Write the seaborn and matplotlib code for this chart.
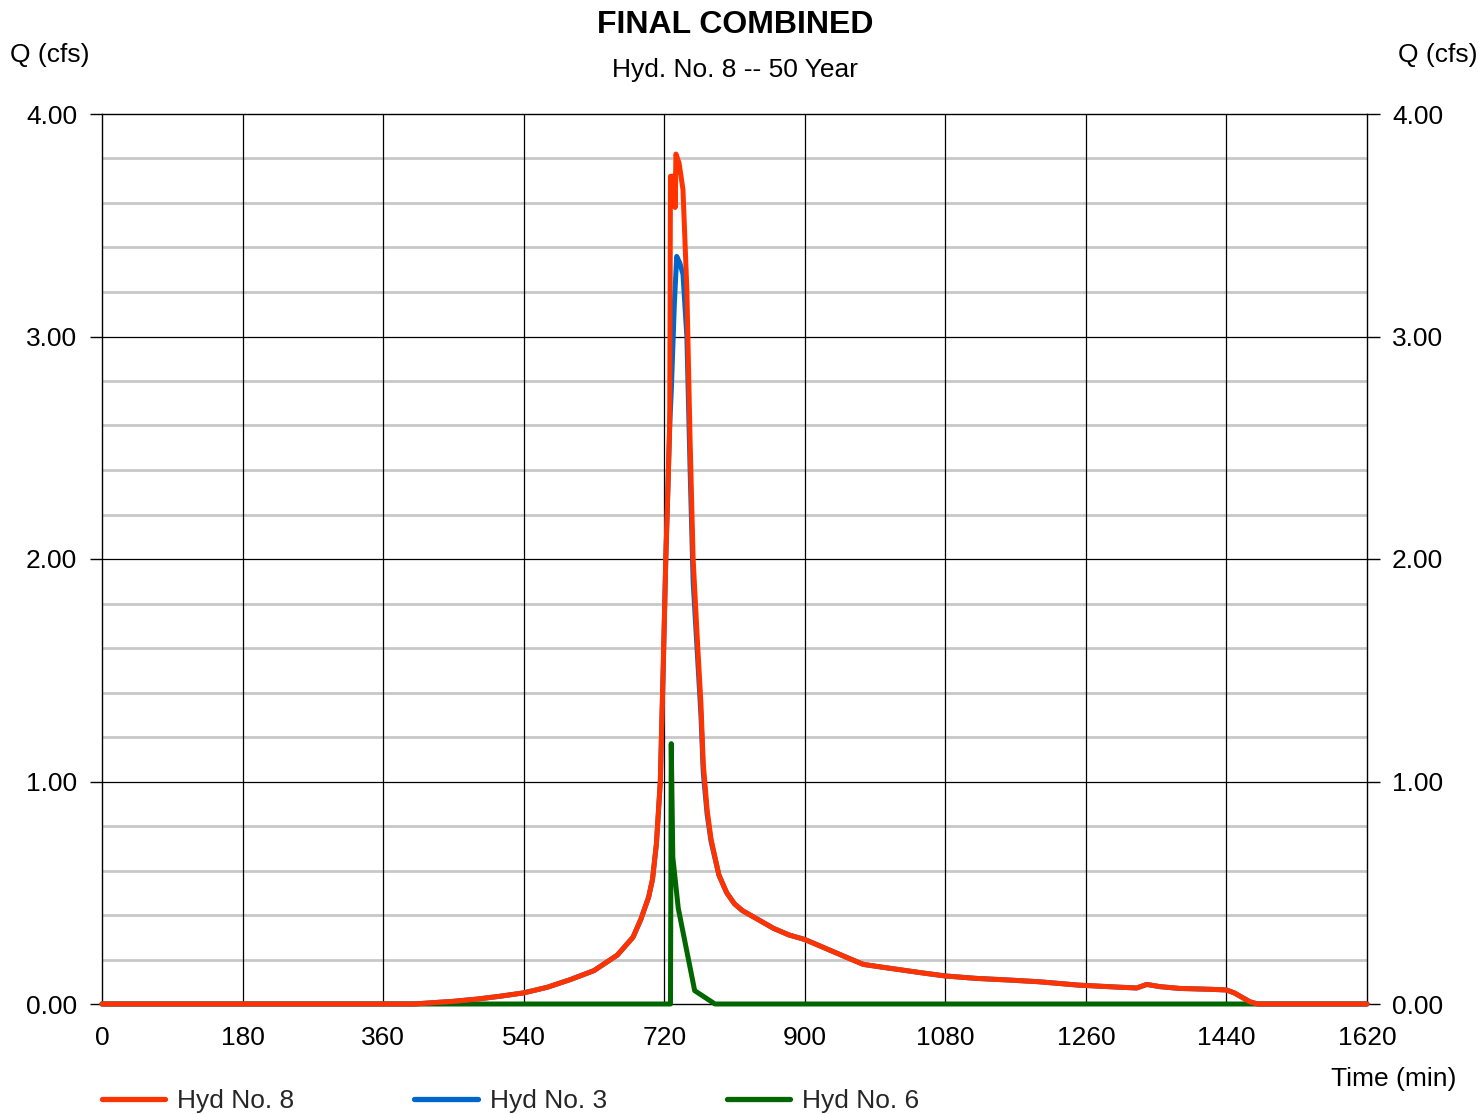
import numpy as np
import pandas as pd
import matplotlib
matplotlib.use("Agg")
import matplotlib.pyplot as plt
import seaborn as sns
from matplotlib.lines import Line2D
from matplotlib.ticker import MultipleLocator

# ---------------- data ----------------
t_hyd8 = [0, 400, 420, 450, 480, 510, 540, 570, 600, 630, 660, 680, 690, 700, 705, 710,
          715, 719, 722, 725, 727, 728, 733, 734, 735, 739, 744, 749, 753, 757, 763, 767,
          770, 775, 780, 790, 800, 810, 820, 830, 845, 860, 880, 900, 930, 960, 975, 1000,
          1050, 1080, 1120, 1160, 1200, 1250, 1300, 1325, 1338, 1355, 1380, 1420, 1440,
          1450, 1460, 1470, 1480, 1620]
q_hyd8 = [0, 0, 0.005, 0.012, 0.022, 0.035, 0.05, 0.075, 0.11, 0.15, 0.22, 0.30, 0.38, 0.48, 0.56, 0.72,
          1.0, 1.55, 2.0, 2.35, 2.6, 3.72, 3.72, 3.58, 3.82, 3.78, 3.66, 3.21, 2.55, 2.0, 1.6, 1.35,
          1.08, 0.87, 0.74, 0.58, 0.50, 0.45, 0.42, 0.40, 0.37, 0.34, 0.31, 0.29, 0.245, 0.20, 0.178, 0.165,
          0.14, 0.126, 0.115, 0.108, 0.10, 0.085, 0.076, 0.072, 0.088, 0.078, 0.07, 0.066, 0.063,
          0.05, 0.03, 0.01, 0, 0]

t_hyd3 = [0, 400, 420, 450, 480, 510, 540, 570, 600, 630, 660, 680, 690, 700, 705, 710,
          715, 719, 722, 725, 727, 729, 731, 733, 736, 740, 744, 749, 753, 757, 763, 767,
          770, 775, 780, 790, 800, 810, 820, 830, 845, 860, 880, 900, 930, 960, 975, 1000,
          1050, 1080, 1120, 1160, 1200, 1250, 1300, 1325, 1338, 1355, 1380, 1420, 1440,
          1450, 1460, 1470, 1480, 1620]
q_hyd3 = [0, 0, 0.005, 0.012, 0.022, 0.035, 0.05, 0.075, 0.11, 0.15, 0.22, 0.30, 0.38, 0.48, 0.56, 0.72,
          1.0, 1.55, 2.0, 2.35, 2.6, 2.75, 2.95, 3.15, 3.36, 3.33, 3.28, 3.0, 2.42, 1.9, 1.54, 1.30,
          1.04, 0.85, 0.73, 0.58, 0.50, 0.45, 0.42, 0.40, 0.37, 0.34, 0.31, 0.29, 0.245, 0.20, 0.178, 0.165,
          0.14, 0.126, 0.115, 0.108, 0.10, 0.085, 0.076, 0.072, 0.088, 0.078, 0.07, 0.066, 0.063,
          0.05, 0.03, 0.01, 0, 0]

t_hyd6 = [0, 728, 729, 731, 738, 759, 785, 1620]
q_hyd6 = [0, 0, 1.17, 0.66, 0.43, 0.06, 0, 0]

x_ticks = [0, 180, 360, 540, 720, 900, 1080, 1260, 1440, 1620]
y_ticks = [0.0, 1.0, 2.0, 3.0, 4.0]
series_names = ["Hyd No. 8", "Hyd No. 3", "Hyd No. 6"]
series_colors = ["#FF3300", "#0066CC", "#006600"]

# ---------------- style ----------------
sns.set_theme(style="white")
plt.rcParams['font.family'] = ['Liberation Sans', 'DejaVu Sans']

W, H = 1478, 1114
fig = plt.figure(figsize=(W / 100, H / 100), dpi=100)
L, R, B, T = 102, 1367, 1004, 114
ax = fig.add_axes([L / W, 1 - B / H, (R - L) / W, (B - T) / H])

df8 = pd.DataFrame({"t": t_hyd8, "q": q_hyd8})
df3 = pd.DataFrame({"t": t_hyd3, "q": q_hyd3})
df6 = pd.DataFrame({"t": t_hyd6, "q": q_hyd6})

lw = 3.6
sns.lineplot(data=df6, x="t", y="q", ax=ax, color=series_colors[2], lw=lw,
             estimator=None, sort=False, zorder=4, clip_on=False)
sns.lineplot(data=df3, x="t", y="q", ax=ax, color=series_colors[1], lw=lw,
             estimator=None, sort=False, zorder=5, clip_on=False)
sns.lineplot(data=df8, x="t", y="q", ax=ax, color=series_colors[0], lw=lw,
             estimator=None, sort=False, zorder=6, clip_on=False)

ax.set_xlim(0, 1620)
ax.set_ylim(0, 4)
ax.set_xlabel("")
ax.set_ylabel("")

# grid
ax.yaxis.set_minor_locator(MultipleLocator(0.2))
ax.set_yticks(y_ticks)
ax.set_xticks(x_ticks)
ax.grid(False)
for y in np.arange(0.2, 4.0, 0.2):
    if abs(y - round(y)) > 1e-6:
        ax.axhline(y, color="#c8c8c8", lw=2.0, zorder=1)
for y in [1, 2, 3]:
    ax.axhline(y, color="black", lw=0.9, zorder=2)
for x in x_ticks[1:-1]:
    ax.axvline(x, color="black", lw=0.9, zorder=2)

for s in ax.spines.values():
    s.set_color("black")
    s.set_linewidth(1.0)

ax.tick_params(axis="y", which="major", direction="out", length=9, width=1, color="black",
               labelsize=19, pad=9, left=True, right=True, labelleft=True, labelright=True)
ax.tick_params(axis="y", which="minor", length=0)
ax.tick_params(axis="x", which="major", length=0, labelsize=19, pad=16, bottom=True)
ax.set_yticklabels([f"{v:.2f}" for v in y_ticks])
ax.set_xticklabels([str(v) for v in x_ticks])
for lab in ax.get_yticklabels(which="major"):
    lab.set_color("black")
for lab in ax.get_xticklabels():
    lab.set_color("black")

# titles and labels
fig.text(735 / W, 1 - 25 / H, "FINAL COMBINED", ha="center", va="center",
         fontsize=23, fontweight="bold", color="black")
fig.text(735 / W, 1 - 70 / H, "Hyd. No. 8 -- 50 Year", ha="center", va="center",
         fontsize=19, color="black")
fig.text(10 / W, 1 - 55 / H, "Q (cfs)", ha="left", va="center", fontsize=19, color="black")
fig.text(1477 / W, 1 - 55 / H, "Q (cfs)", ha="right", va="center", fontsize=19, color="black")
fig.text(1456 / W, 1 - 1079 / H, "Time (min)", ha="right", va="center", fontsize=19, color="black")

handles = [Line2D([0], [0], color=c, lw=3.8, solid_capstyle="round") for c in series_colors]
fig.legend(handles, series_names, loc="center left", bbox_to_anchor=(L / W, 1 - 1101 / H),
           ncol=3, frameon=False, fontsize=19, handlelength=2.4, handletextpad=0.45,
           columnspacing=4.55, borderpad=0, borderaxespad=0)

fig.savefig("out.png", dpi=100)
